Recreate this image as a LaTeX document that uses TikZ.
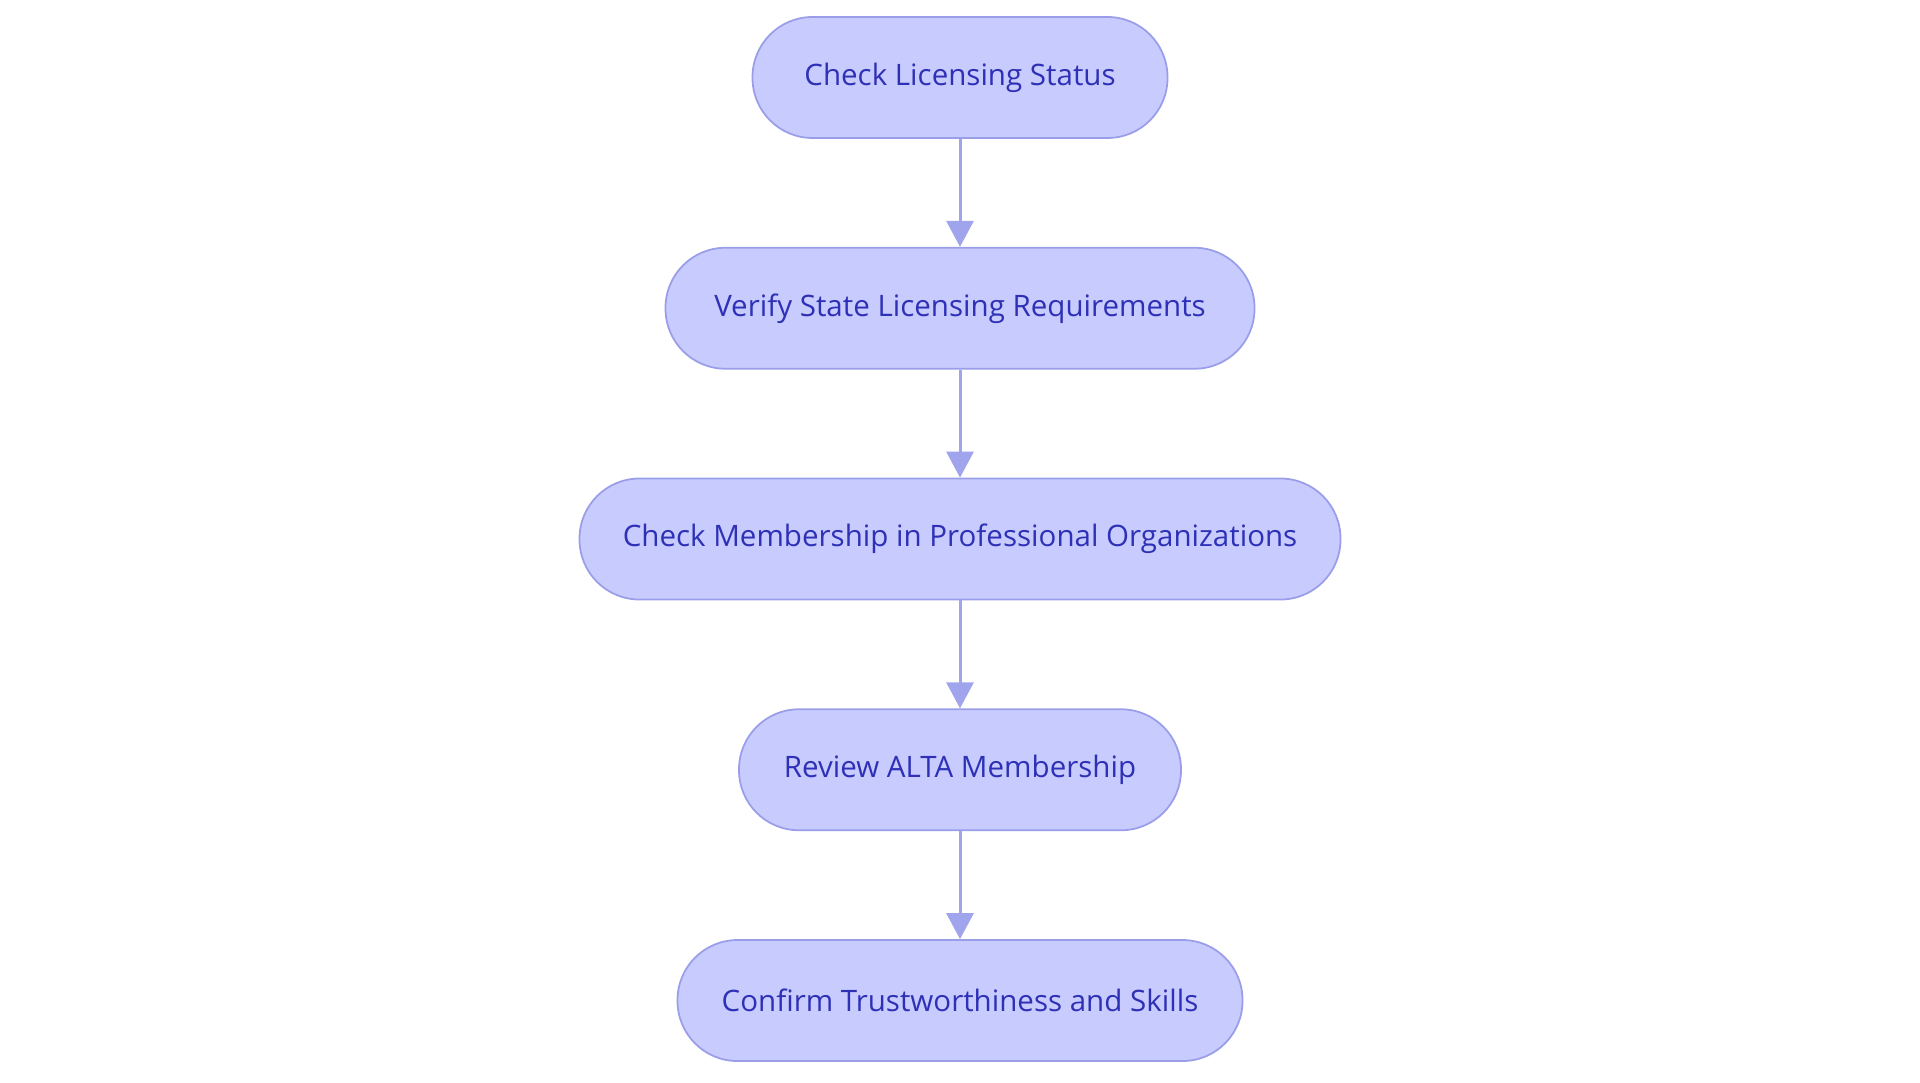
\documentclass[tikz,border=0pt]{standalone}
\usepackage{fontspec}
\setmainfont{Open Sans}
\usetikzlibrary{positioning,arrows.meta}

\definecolor{stepfill}{HTML}{C8CBFE}
\definecolor{stepline}{HTML}{9A9EE8}
\definecolor{steptext}{HTML}{2E31B5}
\definecolor{arrowcol}{HTML}{A0A4EC}

\tikzset{
  stepbox/.style={draw=stepline, line width=1pt, fill=stepfill, text=steptext,
    rounded corners=1.2cm, minimum height=2.42cm, inner xsep=0pt,
    font=\fontsize{16.8}{20}\selectfont},
  flow/.style={draw=arrowcol, line width=1.7pt, -{Triangle[length=0.52cm,width=0.54cm]}}
}

\begin{document}
\begin{tikzpicture}[node distance=2.16cm]
\useasboundingbox (0,0) rectangle (38.4,-21.66); %page

\node[stepbox, minimum width=8.3cm]  (status)  at (19.2,-1.55) {Check Licensing Status};
\node[stepbox, minimum width=11.78cm, below=of status] (state)  {Verify State Licensing Requirements};
\node[stepbox, minimum width=15.22cm, below=of state]  (member) {Check Membership in Professional Organizations};
\node[stepbox, minimum width=8.84cm,  below=of member] (alta)   {Review ALTA Membership};
\node[stepbox, minimum width=11.3cm,  below=of alta]   (trust)  {Confirm Trustworthiness and Skills};

\draw[flow] (status) -- (state);
\draw[flow] (state) -- (member);
\draw[flow] (member) -- (alta);
\draw[flow] (alta) -- (trust);

\end{tikzpicture}
\end{document}
